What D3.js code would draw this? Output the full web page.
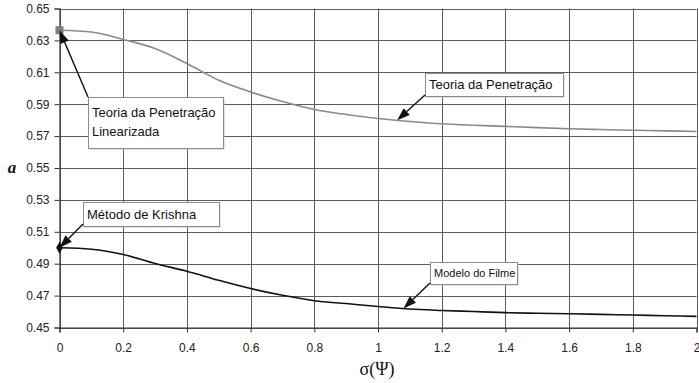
<!DOCTYPE html>
<html>
<head>
<meta charset="utf-8">
<script src="https://cdn.jsdelivr.net/npm/d3@7"></script>
<style>
  html, body { margin: 0; padding: 0; background: #fff; }
  svg { display: block; }
</style>
</head>
<body>
<svg id="chart" width="699" height="383"></svg>
<script>
// Dimensionless parameter sigma(Psi)
const sigma = [0, 0.1, 0.2, 0.3, 0.4, 0.5, 0.6, 0.7, 0.8, 0.9, 1.0,
               1.1, 1.2, 1.3, 1.4, 1.5, 1.6, 1.7, 1.8, 1.9, 2.0];

// Penetration theory curve
const penetracao = [0.6364, 0.6353, 0.6306, 0.6249, 0.6155, 0.6050, 0.5977, 0.5917, 0.5867, 0.5835, 0.5810,
                    0.5792, 0.5777, 0.5768, 0.5761, 0.5753, 0.5746, 0.5741, 0.5737, 0.5733, 0.5729];

// Film model curve
const filme = [0.5000, 0.4991, 0.4958, 0.4901, 0.4853, 0.4796, 0.4744, 0.4702, 0.4668, 0.4650, 0.4632,
               0.4616, 0.4607, 0.4600, 0.4593, 0.4589, 0.4586, 0.4582, 0.4578, 0.4574, 0.4570];

const xTicks = [0, 0.2, 0.4, 0.6, 0.8, 1, 1.2, 1.4, 1.6, 1.8, 2];
const yTicks = [0.45, 0.47, 0.49, 0.51, 0.53, 0.55, 0.57, 0.59, 0.61, 0.63, 0.65];

const svg = d3.select("#chart");
const plotLeft = 59.5, plotRight = 696.5, plotTop = 8.5, plotBottom = 327.5;

const x = d3.scaleLinear().domain([0, 2]).range([plotLeft, plotRight]);
const y = d3.scaleLinear().domain([0.45, 0.65]).range([plotBottom, plotTop]);

const font = "Arial, 'Liberation Sans', sans-serif";

// Grid
const grid = svg.append("g");
grid.selectAll("line.h").data(yTicks).join("line")
  .attr("x1", plotLeft).attr("x2", plotRight)
  .attr("y1", d => Math.round(y(d)) + 0.5).attr("y2", d => Math.round(y(d)) + 0.5)
  .attr("stroke", "#5c5c5c").attr("stroke-width", 1);
grid.selectAll("line.v").data(xTicks).join("line")
  .attr("y1", plotTop).attr("y2", plotBottom)
  .attr("x1", d => Math.round(x(d)) + 0.5).attr("x2", d => Math.round(x(d)) + 0.5)
  .attr("stroke", "#5c5c5c").attr("stroke-width", 1);

// Axes
const yAxis = d3.axisLeft(y).tickValues(yTicks).tickFormat(d3.format(".2f")).tickSize(5).tickPadding(5);
const xAxis = d3.axisBottom(x).tickValues(xTicks).tickFormat(d => d3.format("")(d)).tickSize(5).tickPadding(11);

const gy = svg.append("g").attr("transform", `translate(${plotLeft},0)`).call(yAxis);
const gx = svg.append("g").attr("transform", `translate(0,${plotBottom})`).call(xAxis);
[gx, gy].forEach(g => {
  g.select(".domain").attr("stroke", "#333").attr("stroke-width", 1.2);
  g.selectAll(".tick line").attr("stroke", "#333");
  g.selectAll(".tick text").attr("font-family", font).attr("font-size", 12).attr("fill", "#222");
});

// Curves
const line = d3.line().x((d, i) => x(sigma[i])).y(d => y(d)).curve(d3.curveMonotoneX);

svg.append("path").datum(penetracao)
  .attr("d", line).attr("fill", "none")
  .attr("stroke", "#8a8a8a").attr("stroke-width", 1.6);

svg.append("path").datum(filme)
  .attr("d", line).attr("fill", "none")
  .attr("stroke", "#111").attr("stroke-width", 1.6);

// Start-point markers
svg.append("rect")
  .attr("x", x(sigma[0]) - 4).attr("y", y(penetracao[0]) - 4)
  .attr("width", 8).attr("height", 8).attr("fill", "#808080");
svg.append("path")
  .attr("d", d3.symbol(d3.symbolDiamond, 40)())
  .attr("transform", `translate(${x(sigma[0])},${y(filme[0])})`)
  .attr("fill", "#111");

// Axis titles
svg.append("text")
  .attr("x", 377).attr("y", 375)
  .attr("text-anchor", "middle")
  .attr("font-family", "'Times New Roman', 'Liberation Serif', serif")
  .attr("font-size", 18).attr("fill", "#111")
  .text("σ(Ψ)");

svg.append("text")
  .attr("x", 12).attr("y", 173)
  .attr("text-anchor", "middle")
  .attr("font-family", "'Times New Roman', 'Liberation Serif', serif")
  .attr("font-style", "italic").attr("font-weight", "bold")
  .attr("font-size", 17).attr("fill", "#111")
  .text("a");

// Callouts
function valueAt(series, sx) {
  const i = d3.bisectLeft(sigma, sx);
  if (i <= 0) return series[0];
  const t = (sx - sigma[i - 1]) / (sigma[i] - sigma[i - 1]);
  return series[i - 1] + t * (series[i] - series[i - 1]);
}

const callouts = [
  { lines: ["Teoria da Penetração", "Linearizada"], series: penetracao, at: 0,
    box: [88, 97, 135, 51], from: [88, 97], size: 13 },
  { lines: ["Teoria da Penetração"], series: penetracao, at: 1.06,
    box: [425, 73, 138, 23], from: [425, 95], size: 13 },
  { lines: ["Método de Krishna"], series: filme, at: 0,
    box: [83, 202, 136, 24], from: [83, 224], size: 13 },
  { lines: ["Modelo do Filme"], series: filme, at: 1.08,
    box: [430, 262, 87, 22], from: [430, 283], size: 11 }
];

callouts.forEach(c => {
  const [bx, by, bw, bh] = c.box;
  const g = svg.append("g");
  g.append("rect").attr("x", bx + 1.5).attr("y", by + 1.5).attr("width", bw).attr("height", bh)
    .attr("fill", "#c8c8c8");
  g.append("rect").attr("x", bx + 0.5).attr("y", by + 0.5).attr("width", bw).attr("height", bh)
    .attr("fill", "#fff").attr("stroke", "#8c8c8c").attr("stroke-width", 1);
  c.lines.forEach((t, i) => {
    g.append("text")
      .attr("x", bx + 4).attr("y", by + (c.lines.length > 1 ? 20 + i * 19 : bh / 2 + c.size * 0.36))
      .attr("font-family", font).attr("font-size", c.size).attr("fill", "#111")
      .text(t);
  });

  // Arrow from the box corner to the curve
  const tx = x(c.at), ty = y(valueAt(c.series, c.at));
  const [fx, fy] = c.from;
  const ang = Math.atan2(ty - fy, tx - fx);
  const headLen = 13, headW = 4.5;
  const baseX = tx - headLen * Math.cos(ang), baseY = ty - headLen * Math.sin(ang);
  g.append("line").attr("x1", fx).attr("y1", fy).attr("x2", baseX).attr("y2", baseY)
    .attr("stroke", "#111").attr("stroke-width", 1.4);
  const px = -Math.sin(ang) * headW, py = Math.cos(ang) * headW;
  g.append("path")
    .attr("d", `M${tx},${ty}L${baseX + px},${baseY + py}L${baseX - px},${baseY - py}Z`)
    .attr("fill", "#111");
});
</script>
</body>
</html>
